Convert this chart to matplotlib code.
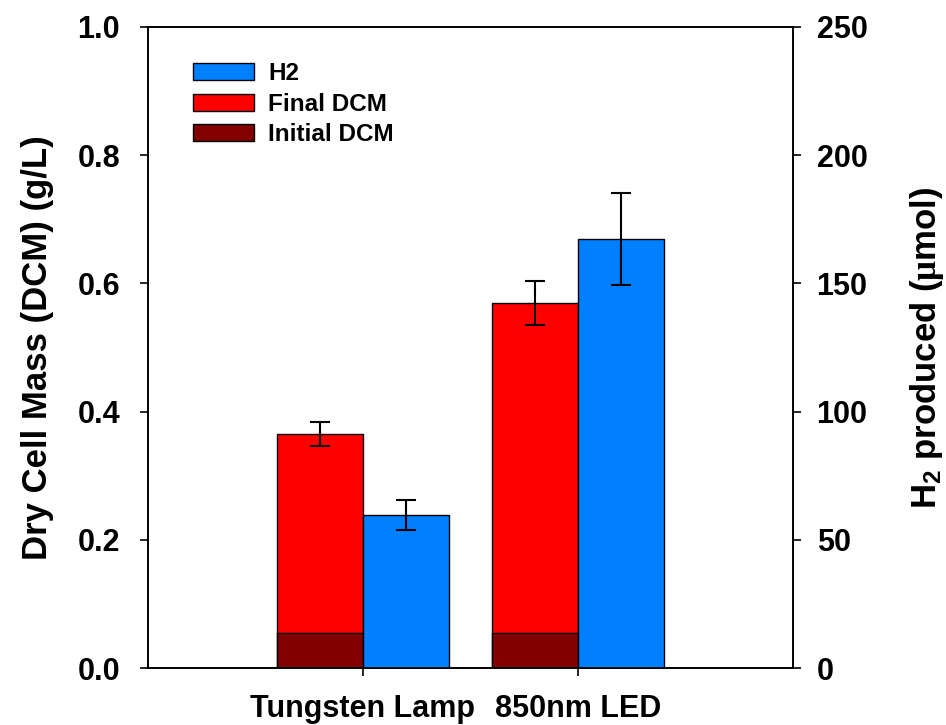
import matplotlib
matplotlib.use('Agg')
import matplotlib.pyplot as plt
from matplotlib.patches import Patch

plt.rcParams['font.family'] = ['Liberation Sans', 'DejaVu Sans']
plt.rcParams['font.weight'] = 'bold'
plt.rcParams['mathtext.fontset'] = 'custom'
plt.rcParams['mathtext.rm'] = 'Liberation Sans:bold'
plt.rcParams['mathtext.it'] = 'Liberation Serif'
plt.rcParams['mathtext.bf'] = 'Liberation Sans:bold'

# data
lights = ['Tungsten Lamp', '850nm LED']
initial_dcm = [0.054, 0.054]
final_dcm = [0.365, 0.569]
final_dcm_err = [0.018, 0.034]
h2 = [59.7, 167.2]
h2_err = [5.9, 17.9]

c_h2 = '#0080FF'
c_final = '#FF0000'
c_init = '#800000'

pos = [1, 2]
w = 0.4

fig = plt.figure(figsize=(9.46, 7.25), dpi=100)
ax = fig.add_axes([148/946, 1-668/725, 645/946, 641/725])
ax2 = ax.twinx()

ekw = dict(ecolor='black', elinewidth=1.5, capsize=7, capthick=1.5)
xl = [p - w/2 for p in pos]
xr = [p + w/2 for p in pos]
ax.bar(xl, final_dcm, w, color=c_final, edgecolor='black', linewidth=1,
       yerr=final_dcm_err, error_kw=ekw, zorder=2)
ax.bar(xl, initial_dcm, w, color=c_init, edgecolor='black', linewidth=1, zorder=3)
ax2.bar(xr, h2, w, color=c_h2, edgecolor='black', linewidth=1,
        yerr=h2_err, error_kw=ekw, zorder=2)

ax.set_xlim(0, 3)
ax.set_ylim(0, 1.0)
ax2.set_ylim(0, 250)
ax.set_xticks(pos)
ax.set_xticklabels(lights)
ax.set_yticks([0, 0.2, 0.4, 0.6, 0.8, 1.0])
ax.set_yticklabels(['0.0', '0.2', '0.4', '0.6', '0.8', '1.0'])
ax2.set_yticks([0, 50, 100, 150, 200, 250])

for a in (ax, ax2):
    for s in a.spines.values():
        s.set_linewidth(1.2)
    a.tick_params(direction='out', length=6, width=1.2, labelsize=22)
ax.tick_params(axis='y', pad=14)
ax.tick_params(axis='x', pad=13)
ax2.tick_params(axis='y', pad=11)

ax.set_ylabel('Dry Cell Mass (DCM) (g/L)', fontsize=25, fontweight='bold', labelpad=17)
ax2.set_ylabel(r'H$_2$ produced ($\mu$mol)', fontsize=25, fontweight='bold', labelpad=29)

handles = [Patch(facecolor=c_h2, edgecolor='black', linewidth=1),
           Patch(facecolor=c_final, edgecolor='black', linewidth=1),
           Patch(facecolor=c_init, edgecolor='black', linewidth=1)]
ax2.legend(handles, ['H2', 'Final DCM', 'Initial DCM'], loc='upper left',
           bbox_to_anchor=(0.07, 0.945), frameon=False, fontsize=17.5,
           handlelength=2.5, handleheight=0.7, handletextpad=0.6,
           labelspacing=0.3, borderpad=0, borderaxespad=0)

fig.savefig('out.png', dpi=100)
